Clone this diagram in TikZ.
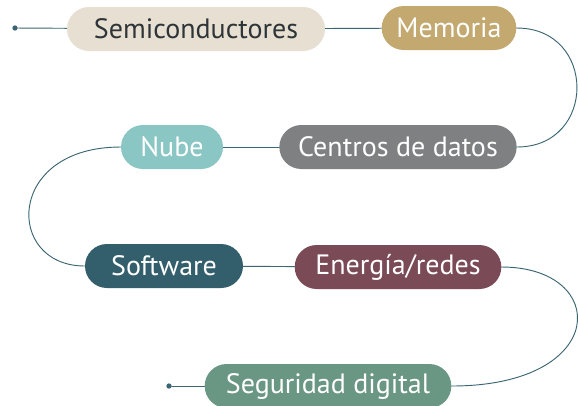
\documentclass[tikz,border=0pt]{standalone}
\usepackage{fontspec}
\setmainfont{PT Sans}
\definecolor{semicol}{HTML}{E7DFD1}
\definecolor{memcol}{HTML}{C3A86F}
\definecolor{centcol}{HTML}{7F8081}
\definecolor{nubecol}{HTML}{8AC7C4}
\definecolor{softcol}{HTML}{335E6B}
\definecolor{enercol}{HTML}{7A4A57}
\definecolor{segcol}{HTML}{6A9684}
\definecolor{linecol}{HTML}{3A6573}
\definecolor{textcol}{HTML}{2E3538}
\begin{document}
\begin{tikzpicture}[
		x=0.75pt,
		y=-0.75pt,
		line cap=round,
		line join=round,
		pill/.style={rounded corners=16.5pt,minimum height=33pt,inner xsep=0pt,text=white,font=\fontsize{21}{25}\selectfont},
		link/.style={draw=linecol,line width=0.7pt},
		dot/.style={circle,fill=linecol,inner sep=0pt,minimum size=4pt}
		]
		\useasboundingbox (0,0) rectangle (578,405);
		\node[pill,fill=semicol,text=textcol,minimum width=193.5pt] (semi) at (196,29) {Semiconductores};
		\node[pill,fill=memcol,minimum width=101pt] (mem) at (449,28) {Memoria};
		\node[pill,fill=centcol,minimum width=178pt] (cent) at (398,147) {Centros de datos};
		\node[pill,fill=nubecol,minimum width=76.5pt] (nube) at (172,147) {Nube};
		\node[pill,fill=softcol,minimum width=118.5pt] (soft) at (164,266) {Software};
		\node[pill,fill=enercol,minimum width=155pt] (ener) at (398,267) {Energía/redes};
		\node[pill,fill=segcol,minimum width=185pt] (seg) at (328,386) {Seguridad digital};
		\node[dot] (start) at (15,28) {};
		\node[dot] (end) at (169,386) {};
		\begin{scope}[link]
		\draw (start) -- (semi);
		\draw (semi) -- (mem);
		\draw (mem.east) .. controls (597,28) and (597,147) .. (cent.east);
		\draw (cent) -- (nube);
		\draw (nube.west) .. controls (5,147) and (5,266) .. (soft.west);
		\draw (soft) -- (ener);
		\draw (ener.east) .. controls (610,267) and (610,386) .. (seg.east);
		\draw (seg) -- (end);
		\end{scope}
		\end{tikzpicture}
\end{document}
